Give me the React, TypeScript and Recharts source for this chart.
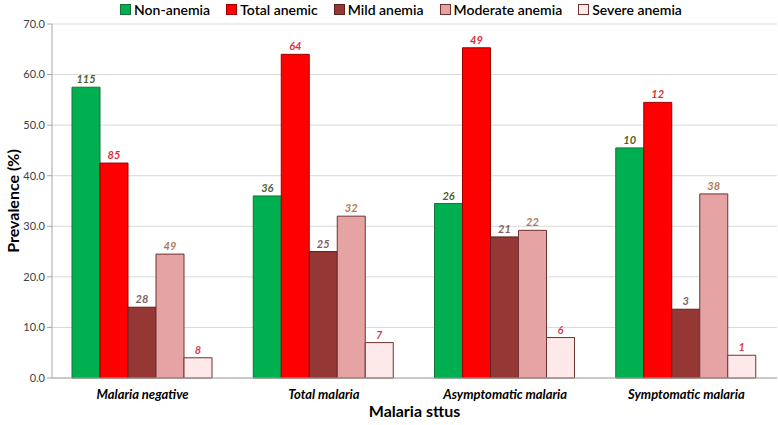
import React from "react";
import { BarChart, Bar, XAxis, YAxis, CartesianGrid, Legend, LabelList } from "recharts";

const categories = ["Malaria negative", "Total malaria", "Asymptomatic malaria", "Symptomatic malaria"];
const nonAnemia = [57.5, 36.0, 34.5, 45.5];
const totalAnemic = [42.5, 64.0, 65.3, 54.5];
const mildAnemia = [14.0, 25.0, 27.9, 13.6];
const moderateAnemia = [24.5, 32.0, 29.2, 36.4];
const severeAnemia = [4.0, 7.0, 8.0, 4.5];

const nonAnemiaN = [115, 36, 26, 10];
const totalAnemicN = [85, 64, 49, 12];
const mildAnemiaN = [28, 25, 21, 3];
const moderateAnemiaN = [49, 32, 22, 38];
const severeAnemiaN = [8, 7, 6, 1];

const yTicks = [0, 10, 20, 30, 40, 50, 60, 70];

const data = categories.map((c, i) => ({
  name: c,
  non: nonAnemia[i],
  total: totalAnemic[i],
  mild: mildAnemia[i],
  moderate: moderateAnemia[i],
  severe: severeAnemia[i],
  nonN: nonAnemiaN[i],
  totalN: totalAnemicN[i],
  mildN: mildAnemiaN[i],
  moderateN: moderateAnemiaN[i],
  severeN: severeAnemiaN[i],
}));

const FONT = "Lato, 'Open Sans', sans-serif";

const series = [
  { key: "non", n: "nonN", name: "Non-anemia", fill: "#00b050", stroke: "#17703a", label: "#4f6228" },
  { key: "total", n: "totalN", name: "Total anemic", fill: "#ff0000", stroke: "#9c0000", label: "#e0303a" },
  { key: "mild", n: "mildN", name: "Mild anemia", fill: "#953735", stroke: "#5e2020", label: "#7a6262" },
  { key: "moderate", n: "moderateN", name: "Moderate anemia", fill: "#e6a3a3", stroke: "#6e3232", label: "#b07a5a" },
  { key: "severe", n: "severeN", name: "Severe anemia", fill: "#fde9e9", stroke: "#6e3232", label: "#e03c50" },
];

const renderLegend = () => (
  <div style={{ display: "flex", justifyContent: "center", gap: 16, paddingLeft: 25, marginTop: -3, fontFamily: FONT, fontSize: 14, color: "#000", fontWeight: 600 }}>
    {series.map((s) => (
      <div key={s.key} style={{ display: "flex", alignItems: "center" }}>
        <span style={{ display: "inline-block", width: 9, height: 9, background: s.fill, border: `1px solid ${s.stroke}`, marginRight: 3 }} />
        <span>{s.name}</span>
      </div>
    ))}
  </div>
);

export default function App() {
  return (
    <div style={{ position: "absolute", left: 0, top: 0, width: 778, height: 425, background: "#fff" }}>
      <BarChart
        width={778}
        height={425}
        data={data}
        margin={{ top: 4, right: 1, left: 0, bottom: 0 }}
        barCategoryGap={20}
        barGap={0}
      >
        <CartesianGrid vertical={false} stroke="#d9d9d9" />
        <Legend verticalAlign="top" height={20} content={renderLegend} />
        <XAxis
          dataKey="name"
          height={47}
          tickLine={false}
          axisLine={{ stroke: "#a6a6a6" }}
          tick={{ fontFamily: FONT, fontSize: 13, fontWeight: 700, fontStyle: "italic", fill: "#000" }}
          tickMargin={6}
          label={{ value: "Malaria sttus", position: "insideBottom", offset: 8, style: { fontFamily: FONT, fontSize: 16, fontWeight: 700, fill: "#000" } }}
        />
        <YAxis
          width={52}
          domain={[0, 70]}
          ticks={yTicks}
          tickFormatter={(v: number) => v.toFixed(1)}
          axisLine={{ stroke: "#a6a6a6" }}
          tickLine={{ stroke: "#a6a6a6" }}
          tickSize={5}
          tick={{ fontFamily: FONT, fontSize: 11, fill: "#404040" }}
          label={{ value: "Prevalence (%)", angle: -90, position: "insideLeft", offset: 13, style: { textAnchor: "middle", fontFamily: FONT, fontSize: 16, fontWeight: 700, fill: "#000" } }}
        />
        {series.map((s) => (
          <Bar key={s.key} dataKey={s.key} name={s.name} fill={s.fill} stroke={s.stroke} strokeWidth={1} isAnimationActive={false}>
            <LabelList
              dataKey={s.n}
              position="top"
              offset={4}
              style={{ fontFamily: FONT, fontSize: 11, fontWeight: 700, fontStyle: "italic", fill: s.label }}
            />
          </Bar>
        ))}
      </BarChart>
    </div>
  );
}
